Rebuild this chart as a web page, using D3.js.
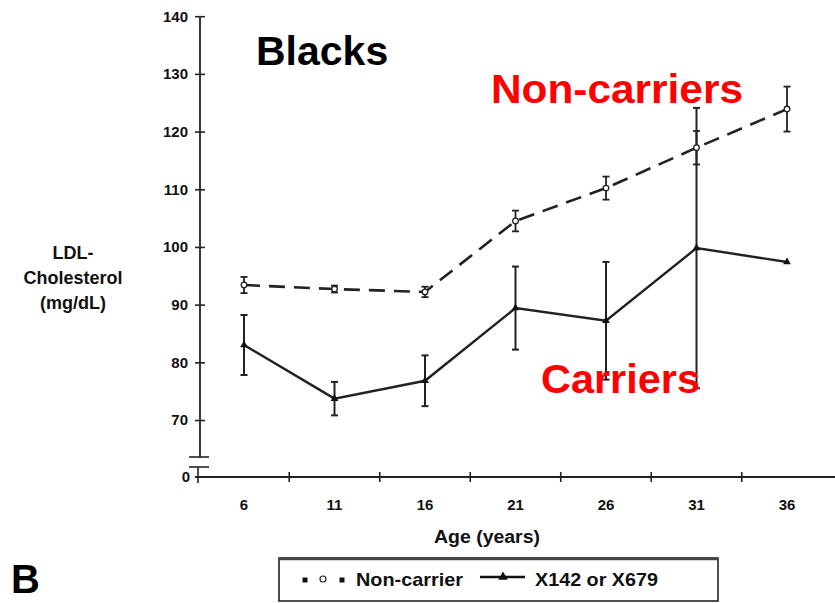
<!DOCTYPE html>
<html>
<head>
<meta charset="utf-8">
<script src="https://cdn.jsdelivr.net/npm/d3@7"></script>
<style>
  html, body { margin: 0; padding: 0; background: #fff; }
  svg { display: block; font-family: "Liberation Sans", Arial, sans-serif; }
</style>
</head>
<body>
<svg id="chart" width="835" height="603"></svg>
<script>
// Age groups (years)
const ages = [6, 11, 16, 21, 26, 31, 36];
// LDL-cholesterol, non-carriers: mean and error
const nonCarrierMean = [93.4, 92.7, 92.2, 104.5, 110.2, 117.2, 123.9];
const nonCarrierErr  = [1.4, 0.6, 0.9, 1.8, 2.0, 2.9, 3.9];
// LDL-cholesterol, X142 or X679 carriers: mean and error
const carrierMean = [83.0, 73.7, 76.8, 89.4, 87.2, 99.8, 97.4];
const carrierErr  = [5.2, 2.9, 4.4, 7.2, 10.2, 24.3, 0];
// Axis ticks
const yTicks = [70, 80, 90, 100, 110, 120, 130, 140];
const xTickLabels = ["6", "11", "16", "21", "26", "31", "36"];

const svg = d3.select("#chart");

const x = d3.scaleLinear().domain([6, 36]).range([244, 787]);
const y = d3.scaleLinear().domain([70, 140]).range([420, 16.2]);

const axisX0 = 200;     // y-axis position
const baseY = 477;      // x-axis (zero) position

// ---- Y axis (broken) ----
const yAxis = svg.append("g")
  .attr("transform", `translate(${axisX0},0)`)
  .call(d3.axisLeft(y).tickValues(yTicks).tickSize(0).tickPadding(12));
yAxis.select(".domain").remove();
yAxis.selectAll(".tick text")
  .attr("font-size", 15).attr("font-weight", "bold").attr("fill", "#111")
  .attr("font-family", "Liberation Sans, Arial, sans-serif");
yAxis.selectAll(".tick").append("line")
  .attr("x1", -5).attr("x2", 5).attr("stroke", "#222").attr("stroke-width", 1.6);

svg.append("line").attr("x1", axisX0).attr("x2", axisX0)
  .attr("y1", y(140)).attr("y2", 457).attr("stroke", "#222").attr("stroke-width", 1.8);
// break marks
svg.append("line").attr("x1", 189).attr("x2", 209).attr("y1", 457).attr("y2", 457)
  .attr("stroke", "#222").attr("stroke-width", 1.6);
svg.append("line").attr("x1", 189).attr("x2", 209).attr("y1", 467).attr("y2", 467)
  .attr("stroke", "#222").attr("stroke-width", 1.6);
svg.append("line").attr("x1", 198).attr("x2", 198).attr("y1", 467).attr("y2", 483)
  .attr("stroke", "#222").attr("stroke-width", 1.6);
svg.append("text").attr("x", 190).attr("y", baseY + 5).attr("text-anchor", "end")
  .attr("font-size", 15).attr("font-weight", "bold").attr("fill", "#111").text("0");

// ---- X axis ----
svg.append("line").attr("x1", 195).attr("x2", 835).attr("y1", baseY).attr("y2", baseY)
  .attr("stroke", "#222").attr("stroke-width", 2);
const xTickPos = d3.range(8.5, 36, 5);
svg.append("g").selectAll("line").data(xTickPos).join("line")
  .attr("x1", d => x(d)).attr("x2", d => x(d))
  .attr("y1", baseY - 5).attr("y2", baseY + 5)
  .attr("stroke", "#222").attr("stroke-width", 1.6);
svg.append("g").selectAll("text").data(ages).join("text")
  .attr("x", d => x(d)).attr("y", 510).attr("text-anchor", "middle")
  .attr("font-size", 15).attr("font-weight", "bold").attr("fill", "#111")
  .text((d, i) => xTickLabels[i]);

svg.append("text").attr("x", 487).attr("y", 543).attr("text-anchor", "middle")
  .attr("font-size", 18).attr("font-weight", "bold").attr("fill", "#111")
  .attr("textLength", 106).attr("lengthAdjust", "spacingAndGlyphs")
  .text("Age (years)");

// ---- Y title ----
const yTitle = svg.append("text").attr("text-anchor", "middle")
  .attr("font-size", 18).attr("font-weight", "bold").attr("fill", "#111");
[["LDL-", 259], ["Cholesterol", 284], ["(mg/dL)", 309]].forEach(([t, yy]) => {
  yTitle.append("tspan").attr("x", 73).attr("y", yy).text(t);
});

// ---- Error bars ----
function errorBars(means, errs, cap, sw) {
  const g = svg.append("g").attr("stroke", "#222").attr("stroke-width", sw);
  const rows = ages.map((a, i) => ({ a, m: means[i], e: errs[i] })).filter(d => d.e > 0);
  g.selectAll(".v").data(rows).join("line")
    .attr("x1", d => x(d.a)).attr("x2", d => x(d.a))
    .attr("y1", d => y(d.m + d.e)).attr("y2", d => y(d.m - d.e));
  g.selectAll(".t").data(rows).join("line")
    .attr("x1", d => x(d.a) - cap).attr("x2", d => x(d.a) + cap)
    .attr("y1", d => y(d.m + d.e)).attr("y2", d => y(d.m + d.e));
  g.selectAll(".b").data(rows).join("line")
    .attr("x1", d => x(d.a) - cap).attr("x2", d => x(d.a) + cap)
    .attr("y1", d => y(d.m - d.e)).attr("y2", d => y(d.m - d.e));
}
errorBars(nonCarrierMean, nonCarrierErr, 3.5, 1.8);
errorBars(carrierMean, carrierErr, 3.5, 2);

// ---- Lines ----
const line = d3.line().x(d => x(d[0])).y(d => y(d[1]));
svg.append("path")
  .datum(ages.map((a, i) => [a, nonCarrierMean[i]]))
  .attr("d", line).attr("fill", "none").attr("stroke", "#222")
  .attr("stroke-width", 2.6).attr("stroke-dasharray", "16,9");
svg.append("path")
  .datum(ages.map((a, i) => [a, carrierMean[i]]))
  .attr("d", line).attr("fill", "none").attr("stroke", "#222")
  .attr("stroke-width", 2.4);

// ---- Markers ----
svg.append("g").selectAll("circle").data(ages).join("circle")
  .attr("cx", d => x(d)).attr("cy", (d, i) => y(nonCarrierMean[i])).attr("r", 2.8)
  .attr("fill", "#fff").attr("stroke", "#222").attr("stroke-width", 1.3);
const tri = d3.symbol().type(d3.symbolTriangle).size(26);
svg.append("g").selectAll("path").data(ages).join("path")
  .attr("transform", (d, i) => `translate(${x(d)},${y(carrierMean[i])})`)
  .attr("d", tri).attr("fill", "#111");

// ---- Annotations ----
svg.append("text").attr("x", 256).attr("y", 65).attr("font-size", 41)
  .attr("font-weight", "bold").attr("fill", "#000").text("Blacks");
svg.append("text").attr("x", 491).attr("y", 103).attr("font-size", 41)
  .attr("font-weight", "bold").attr("fill", "#ff0000")
  .attr("textLength", 252).attr("lengthAdjust", "spacingAndGlyphs").text("Non-carriers");
svg.append("text").attr("x", 541).attr("y", 393).attr("font-size", 41)
  .attr("font-weight", "bold").attr("fill", "#ff0000")
  .attr("textLength", 159).attr("lengthAdjust", "spacingAndGlyphs").text("Carriers");
svg.append("text").attr("x", 11).attr("y", 593).attr("font-size", 40)
  .attr("font-weight", "bold").attr("fill", "#000").text("B");

// ---- Legend ----
const lg = svg.append("g");
lg.append("rect").attr("x", 279).attr("y", 558).attr("width", 439).attr("height", 43)
  .attr("fill", "#fff").attr("stroke", "#222").attr("stroke-width", 1.6);
lg.append("line").attr("x1", 279).attr("x2", 718).attr("y1", 559).attr("y2", 559)
  .attr("stroke", "#444").attr("stroke-width", 2.5);
lg.selectAll(".sq").data([305, 342]).join("rect")
  .attr("x", d => d - 2.5).attr("y", 577.5).attr("width", 5).attr("height", 5).attr("fill", "#111");
lg.append("circle").attr("cx", 323).attr("cy", 579).attr("r", 3)
  .attr("fill", "#fff").attr("stroke", "#222").attr("stroke-width", 1.2);
lg.append("text").attr("x", 356).attr("y", 586).attr("font-size", 19)
  .attr("font-weight", "bold").attr("fill", "#111")
  .attr("textLength", 107).attr("lengthAdjust", "spacingAndGlyphs").text("Non-carrier");
lg.append("line").attr("x1", 480).attr("x2", 525).attr("y1", 577).attr("y2", 577)
  .attr("stroke", "#111").attr("stroke-width", 2.6);
lg.append("path").attr("transform", "translate(503,577)").attr("d", d3.symbol().type(d3.symbolTriangle).size(40))
  .attr("fill", "#111");
lg.append("text").attr("x", 535).attr("y", 586).attr("font-size", 19)
  .attr("font-weight", "bold").attr("fill", "#111")
  .attr("textLength", 123).attr("lengthAdjust", "spacingAndGlyphs").text("X142 or X679");
</script>
</body>
</html>
